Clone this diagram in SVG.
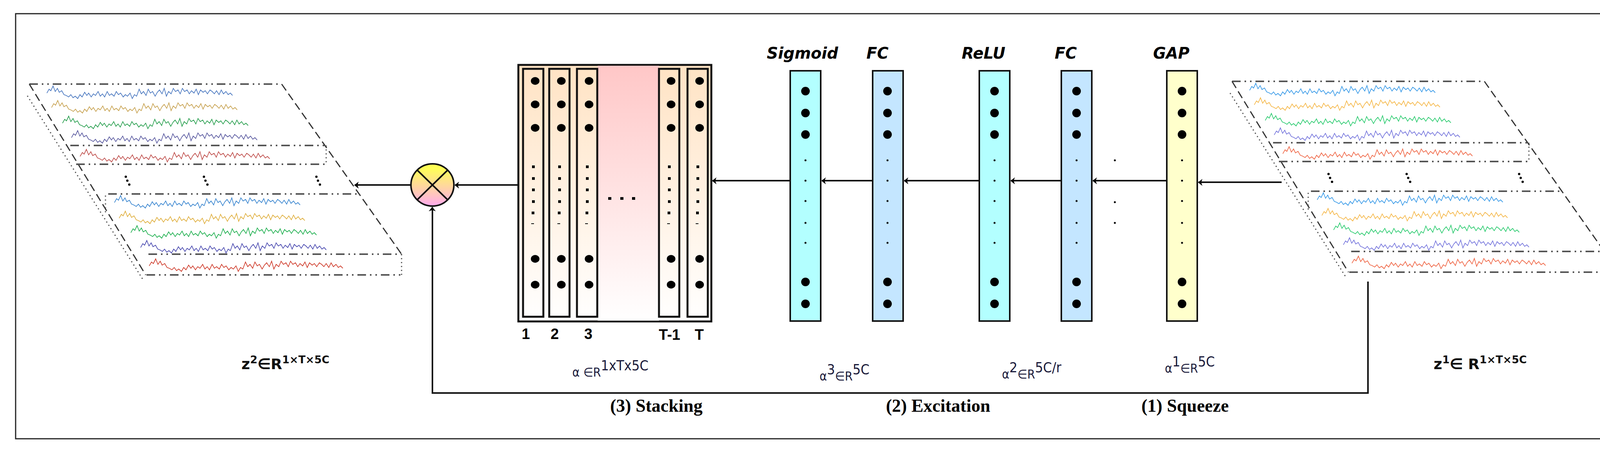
<svg xmlns="http://www.w3.org/2000/svg" xmlns:xlink="http://www.w3.org/1999/xlink" width="4169" height="1161" viewBox="0 0 4169 1161">
<style>
.frame{fill:none;stroke:#222;stroke-width:3}
.col{stroke:#111;stroke-width:4}
.scol{fill:none;stroke:#111;stroke-width:5}
.conn{stroke:#111;stroke-width:4;fill:none}
.dd{stroke:#555;stroke-width:4;stroke-dasharray:22 10 4 10 4 10;fill:none}
.ds{stroke:#333;stroke-width:3;stroke-dasharray:20 10;fill:none}
.dt{stroke:#555;stroke-width:3;stroke-dasharray:3 7;fill:none}
.sig{fill:none;stroke-width:1.8}
.lbl{font-family:"DejaVu Sans",sans-serif;font-style:italic;font-weight:bold;font-size:40px;fill:#000}
.math{font-family:"DejaVu Sans Condensed","DejaVu Sans",sans-serif;font-size:32px;fill:#1a1a3a}
.zl{font-family:"DejaVu Sans",sans-serif;font-weight:bold;font-size:38px;fill:#111}
.step{font-family:"Liberation Serif",serif;font-weight:bold;font-size:46px;fill:#000}
.num{font-family:"Liberation Sans",Arial,sans-serif;font-weight:bold;font-size:38px;fill:#000;text-anchor:middle}
</style>
<defs>
<marker id="ah" viewBox="0 0 20 20" refX="19" refY="10" markerWidth="9" markerHeight="9" markerUnits="userSpaceOnUse" orient="auto" overflow="visible">
<path d="M-4,-12 L24,10 L-4,32 L4,10 Z" fill="#000" transform="scale(0.9)"/>
</marker>
<linearGradient id="peach" x1="0" y1="0" x2="0" y2="1"><stop offset="0" stop-color="#ffe3c4"/><stop offset="1" stop-color="#ffffff"/></linearGradient>
<linearGradient id="pink" x1="0" y1="0" x2="0" y2="1"><stop offset="0" stop-color="#ffc7c7"/><stop offset="1" stop-color="#ffffff"/></linearGradient>
<linearGradient id="mul" x1="0" y1="0" x2="0" y2="1"><stop offset="0.1" stop-color="#ffff55"/><stop offset="1" stop-color="#ffaaee"/></linearGradient>
<path id="noise" d="M0,0 l6,-10 5,4 6,-12 6,14 6,-8 5,10 7,-4 6,10 6,2 7,4 6,-6 6,8 6,-4 7,6 6,-10 6,6 7,-12 6,8 5,-6 7,10 6,-8 6,4 7,-10 6,12 6,-6 6,8 7,-14 6,10 6,-4 7,6 6,-12 6,8 6,-4 7,10 6,-6 6,4 7,-8 6,14 6,-10 6,4 7,-18 6,12 6,-6 7,10 6,-16 6,10 6,-4 7,12 6,-10 6,-6 7,10 6,-14 6,20 6,-12 7,6 6,-14 6,8 7,-4 6,10 6,-14 6,8 7,-4 6,10 6,-8 7,6 6,-10 6,14 6,-12 7,6 6,-4 6,8 7,-10 6,4 6,6 6,-8 7,10 6,-12 6,10 7,-6 6,8 6,-4 6,6"/>
<g id="tensor">
<line class="dd" x1="75" y1="215" x2="721" y2="215"/>
<line class="ds" x1="75" y1="215" x2="373" y2="703"/>
<line class="dt" x1="70" y1="245" x2="366" y2="715"/>
<line class="ds" x1="721" y1="215" x2="1028" y2="650"/>
<line class="dd" x1="180" y1="372" x2="835" y2="372"/>
<line class="dd" x1="195" y1="420" x2="835" y2="420"/>
<line class="dt" x1="835" y1="372" x2="835" y2="420"/>
<line class="dd" x1="277" y1="496" x2="915" y2="496"/>
<line class="dd" x1="380" y1="650" x2="1028" y2="650"/>
<line class="dd" x1="375" y1="703" x2="1028" y2="703"/>
<line class="dt" x1="1028" y1="650" x2="1028" y2="703"/>
<line class="dt" x1="270" y1="500" x2="270" y2="545"/>
<g fill="#000"><circle cx="322" cy="452" r="3"/><circle cx="326" cy="462" r="3"/><circle cx="331" cy="472" r="3"/>
<circle cx="522" cy="452" r="3"/><circle cx="526" cy="462" r="3"/><circle cx="531" cy="472" r="3"/>
<circle cx="810" cy="452" r="3"/><circle cx="814" cy="462" r="3"/><circle cx="819" cy="472" r="3"/></g>
</g>
</defs>

<rect class="frame" x="40" y="35" width="4090" height="1087"/>

<!-- left tensor z2 -->
<g id="z2">
<use xlink:href="#tensor"/>
<use xlink:href="#noise" class="sig" stroke="#4a78c0" transform="translate(120,238) scale(0.93,1)"/>
<use xlink:href="#noise" class="sig" stroke="#c8a352" transform="translate(132,275) scale(0.93,1)"/>
<use xlink:href="#noise" class="sig" stroke="#2aa050" transform="translate(160,315) scale(0.93,1)"/>
<use xlink:href="#noise" class="sig" stroke="#5a5aa0" transform="translate(183,352) scale(0.93,1)"/>
<use xlink:href="#noise" class="sig" stroke="#c0504d" transform="translate(205,400) scale(0.95,1)"/>
<use xlink:href="#noise" class="sig" stroke="#3a86d0" transform="translate(293,518) scale(0.93,1)"/>
<use xlink:href="#noise" class="sig" stroke="#e0b040" transform="translate(305,558) scale(0.93,1)"/>
<use xlink:href="#noise" class="sig" stroke="#20b050" transform="translate(335,595) scale(0.93,1)"/>
<use xlink:href="#noise" class="sig" stroke="#4a4ab0" transform="translate(360,633) scale(0.93,1)"/>
<use xlink:href="#noise" class="sig" stroke="#d04030" transform="translate(382,680) scale(0.97,1)"/>
</g>

<!-- right tensor z1 -->
<g id="z1" transform="translate(3079,-7)">
<use xlink:href="#tensor"/>
<use xlink:href="#noise" class="sig" stroke="#3a9be8" transform="translate(120,238) scale(0.93,1)"/>
<use xlink:href="#noise" class="sig" stroke="#f5b84a" transform="translate(132,275) scale(0.93,1)"/>
<use xlink:href="#noise" class="sig" stroke="#2ecc71" transform="translate(160,315) scale(0.93,1)"/>
<use xlink:href="#noise" class="sig" stroke="#7777dd" transform="translate(183,352) scale(0.93,1)"/>
<use xlink:href="#noise" class="sig" stroke="#f06a4a" transform="translate(205,400) scale(0.95,1)"/>
<use xlink:href="#noise" class="sig" stroke="#3a9be8" transform="translate(293,518) scale(0.93,1)"/>
<use xlink:href="#noise" class="sig" stroke="#f5b84a" transform="translate(305,558) scale(0.93,1)"/>
<use xlink:href="#noise" class="sig" stroke="#2ecc71" transform="translate(335,595) scale(0.93,1)"/>
<use xlink:href="#noise" class="sig" stroke="#7777dd" transform="translate(360,633) scale(0.93,1)"/>
<use xlink:href="#noise" class="sig" stroke="#f06a4a" transform="translate(382,680) scale(0.97,1)"/>
</g>

<!-- multiply node -->
<g id="mul">
<ellipse cx="1107" cy="473" rx="55" ry="54" fill="url(#mul)" stroke="#111" stroke-width="4"/>
<line x1="1068" y1="435" x2="1146" y2="511" stroke="#111" stroke-width="4"/>
<line x1="1146" y1="435" x2="1068" y2="511" stroke="#111" stroke-width="4"/>
</g>

<!-- stacking -->
<g id="stack">
<rect x="1327" y="166" width="494" height="656" fill="url(#peach)" stroke="#111" stroke-width="5"/>
<rect x="1530" y="168" width="157" height="652" fill="url(#pink)"/>
<g fill="url(#peach)" class="scol">
<rect x="1339" y="176" width="52" height="634"/>
<rect x="1406" y="176" width="52" height="634"/>
<rect x="1477" y="176" width="52" height="634"/>
<rect x="1687" y="176" width="52" height="634"/>
<rect x="1760" y="176" width="52" height="634"/>
</g>
<g fill="#000">
<g id="scd">
<ellipse cx="1370" cy="207" rx="11" ry="10"/><ellipse cx="1370" cy="267" rx="11" ry="10"/><ellipse cx="1370" cy="327" rx="11" ry="10"/>
<rect x="1362" y="423" width="7" height="7"/><rect x="1362" y="453" width="7" height="7"/><rect x="1362" y="482" width="7" height="7"/><rect x="1362" y="512" width="7" height="7"/><rect x="1361" y="541" width="7" height="7"/><rect x="1360" y="571" width="7" height="2"/>
<ellipse cx="1370" cy="662" rx="11" ry="10"/><ellipse cx="1370" cy="728" rx="11" ry="10"/>
</g>
<use xlink:href="#scd" x="67"/>
<use xlink:href="#scd" x="138"/>
<use xlink:href="#scd" x="348"/>
<use xlink:href="#scd" x="421"/>
<rect x="1557" y="504" width="8" height="7"/><rect x="1588" y="504" width="8" height="7"/><rect x="1618" y="504" width="8" height="7"/>
</g>
<text class="num" x="1346" y="867">1</text>
<text class="num" x="1420" y="867">2</text>
<text class="num" x="1506" y="867">3</text>
<text class="num" x="1714" y="869">T-1</text>
<text class="num" x="1790" y="869">T</text>
</g>

<!-- excitation/squeeze columns -->
<g id="cols">
<g id="colSig"><rect class="col" x="2023" y="181" width="78" height="640" fill="#b3ffff"/></g>
<g id="colFC1"><rect class="col" x="2234" y="181" width="78" height="640" fill="#c4e6ff"/></g>
<g id="colReLU"><rect class="col" x="2507" y="181" width="78" height="640" fill="#b3ffff"/></g>
<g id="colFC2"><rect class="col" x="2717" y="181" width="78" height="640" fill="#c4e6ff"/></g>
<g id="colGAP"><rect class="col" x="2987" y="181" width="78" height="640" fill="#ffffcc"/></g>
<g fill="#000">
<g id="cd">
<ellipse cx="2062" cy="233" rx="11" ry="11"/><ellipse cx="2062" cy="289" rx="11" ry="11"/><ellipse cx="2062" cy="344" rx="11" ry="11"/>
<circle cx="2062" cy="410" r="2.5"/><circle cx="2062" cy="462" r="2.5"/><circle cx="2062" cy="514" r="2.5"/><circle cx="2062" cy="570" r="2.5"/><circle cx="2062" cy="621" r="2.5"/>
<ellipse cx="2062" cy="721" rx="11" ry="11"/><ellipse cx="2062" cy="777" rx="11" ry="11"/>
</g>
<use xlink:href="#cd" x="210"/>
<use xlink:href="#cd" x="484"/>
<use xlink:href="#cd" x="694"/>
<use xlink:href="#cd" x="964"/>
<circle cx="2854" cy="410" r="2.5"/><circle cx="2854" cy="517" r="2.5"/><circle cx="2854" cy="570" r="2.5"/>
</g>
<text class="lbl" x="1963" y="150">Sigmoid</text>
<text class="lbl" x="2218" y="150">FC</text>
<text class="lbl" x="2462" y="150">ReLU</text>
<text class="lbl" x="2700" y="150">FC</text>
<text class="lbl" x="2952" y="150">GAP</text>
</g>

<!-- connectors -->
<g id="connectors">
<line class="conn" x1="3281" y1="466" x2="3068" y2="466" marker-end="url(#ah)"/>
<line class="conn" x1="2987" y1="462" x2="2798" y2="462" marker-end="url(#ah)"/>
<line class="conn" x1="2717" y1="462" x2="2588" y2="462" marker-end="url(#ah)"/>
<line class="conn" x1="2507" y1="462" x2="2315" y2="462" marker-end="url(#ah)"/>
<line class="conn" x1="2234" y1="462" x2="2104" y2="462" marker-end="url(#ah)"/>
<line class="conn" x1="2023" y1="462" x2="1824" y2="462" marker-end="url(#ah)"/>
<line class="conn" x1="1327" y1="473" x2="1165" y2="473" marker-end="url(#ah)"/>
<line class="conn" x1="1052" y1="473" x2="908" y2="473" marker-end="url(#ah)"/>
<polyline class="conn" points="3502,720 3502,1005 1107,1005 1107,530" marker-end="url(#ah)"/>
</g>

<!-- labels -->
<text class="zl" x="618" y="944">z<tspan dy="-15" font-size="27">2</tspan><tspan dy="15">∈R</tspan><tspan dy="-15" font-size="27">1×T×5C</tspan></text>
<text class="zl" x="3670" y="944">z<tspan dy="-15" font-size="27">1</tspan><tspan dy="15">∈ R</tspan><tspan dy="-15" font-size="27">1×T×5C</tspan></text>
<text class="math" x="1465" y="963">α ∈R<tspan dy="-16" font-size="36">1xTx5C</tspan></text>
<text class="math" x="2098" y="973">α<tspan dy="-16" font-size="36">3</tspan><tspan dy="16">∈R</tspan><tspan dy="-16" font-size="36">5C</tspan></text>
<text class="math" x="2565" y="968">α<tspan dy="-16" font-size="36">2</tspan><tspan dy="16">∈R</tspan><tspan dy="-16" font-size="36">5C/r</tspan></text>
<text class="math" x="2982" y="953">α<tspan dy="-16" font-size="36">1</tspan><tspan dy="16">∈R</tspan><tspan dy="-16" font-size="36">5C</tspan></text>
<text class="step" x="1562" y="1053">(3) Stacking</text>
<text class="step" x="2268" y="1053">(2) Excitation</text>
<text class="step" x="2922" y="1053">(1) Squeeze</text>
</svg>
